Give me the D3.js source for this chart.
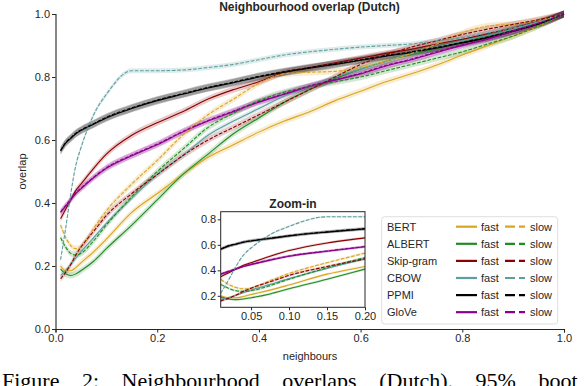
<!DOCTYPE html>
<html><head><meta charset="utf-8">
<script src="https://cdn.jsdelivr.net/npm/d3@7"></script>
<style>body{margin:0;background:#fff}svg{display:block}</style>
</head><body><svg id="c" width="584" height="386"></svg>
<script>
const xs = [0.01,0.02,0.03,0.04,0.05,0.075,0.1,0.15,0.2,0.25,0.3,0.35,0.4,0.45,0.5,0.55,0.6,0.65,0.7,0.75,0.8,0.85,0.9,0.95,1.0];
const models = ["BERT","ALBERT","Skip-gram","CBOW","PPMI","GloVe"];
const colors = ["#daa520","#228b22","#8b0000","#5f9ea0","#000000","#8b008b"];
const xTicks = [0,0.2,0.4,0.6,0.8,1.0];
const yTicks = [0,0.2,0.4,0.6,0.8,1.0];
const insetXTicks = [0.05,0.10,0.15,0.20];
const insetYTicks = [0.2,0.4,0.6,0.8];

const bertFast   = [0.20,0.185,0.185,0.195,0.21,0.245,0.285,0.37,0.43,0.49,0.545,0.585,0.625,0.66,0.69,0.725,0.755,0.785,0.81,0.838,0.87,0.90,0.93,0.962,1.0];
const bertSlow   = [0.33,0.29,0.265,0.255,0.26,0.32,0.375,0.46,0.535,0.615,0.68,0.73,0.78,0.81,0.815,0.818,0.83,0.85,0.875,0.905,0.94,0.962,0.968,0.98,1.0];
const albertFast = [0.19,0.175,0.17,0.175,0.185,0.215,0.255,0.33,0.41,0.49,0.555,0.62,0.67,0.72,0.76,0.795,0.825,0.85,0.872,0.89,0.91,0.93,0.952,0.975,1.0];
const albertSlow = [0.29,0.26,0.24,0.235,0.24,0.28,0.33,0.42,0.50,0.57,0.64,0.685,0.725,0.752,0.77,0.785,0.80,0.82,0.84,0.86,0.88,0.905,0.93,0.962,1.0];
const skipFast   = [0.35,0.38,0.41,0.44,0.46,0.51,0.555,0.615,0.655,0.69,0.73,0.76,0.785,0.815,0.83,0.845,0.86,0.875,0.888,0.905,0.92,0.938,0.955,0.975,1.0];
const skipSlow   = [0.16,0.18,0.205,0.235,0.26,0.31,0.36,0.43,0.49,0.55,0.60,0.64,0.68,0.72,0.76,0.80,0.84,0.87,0.895,0.915,0.935,0.952,0.967,0.982,1.0];
const cbowFast   = [0.17,0.185,0.205,0.225,0.245,0.29,0.335,0.415,0.49,0.55,0.615,0.66,0.70,0.74,0.77,0.80,0.825,0.85,0.875,0.895,0.915,0.932,0.952,0.975,1.0];
const cbowSlow   = [0.22,0.32,0.43,0.52,0.575,0.68,0.745,0.82,0.82,0.822,0.83,0.84,0.855,0.87,0.88,0.888,0.895,0.90,0.905,0.915,0.925,0.94,0.955,0.975,1.0];
const ppmiFast   = [0.565,0.59,0.605,0.62,0.63,0.65,0.67,0.70,0.725,0.745,0.765,0.782,0.80,0.815,0.828,0.84,0.853,0.866,0.878,0.892,0.908,0.925,0.945,0.968,1.0];
const ppmiSlow   = [0.567,0.592,0.607,0.622,0.632,0.652,0.672,0.702,0.727,0.747,0.767,0.784,0.802,0.817,0.83,0.842,0.855,0.868,0.88,0.894,0.91,0.927,0.947,0.969,1.0];
const gloveFast  = [0.37,0.39,0.41,0.43,0.445,0.48,0.51,0.55,0.585,0.625,0.66,0.69,0.72,0.745,0.77,0.79,0.81,0.835,0.855,0.878,0.90,0.92,0.945,0.97,1.0];
const gloveSlow  = [0.372,0.392,0.412,0.432,0.447,0.482,0.512,0.552,0.587,0.627,0.662,0.692,0.722,0.747,0.772,0.792,0.812,0.837,0.857,0.88,0.902,0.922,0.947,0.971,1.0];

const fastSeries = [bertFast, albertFast, skipFast, cbowFast, ppmiFast, gloveFast];
const slowSeries = [bertSlow, albertSlow, skipSlow, cbowSlow, ppmiSlow, gloveSlow];
const ciWidth = [0.010,0.010,0.010,0.008,0.012,0.010];
const captionWords = ["Figure","2:","Neighbourhood","overlaps","(Dutch).","95%","boot"];

const svg = d3.select("#c");
const FONT = "'Liberation Sans', Arial, sans-serif";
const TXT = "#262626";

const x = d3.scaleLinear().domain([0,1]).range([55.5,564]);
const y = d3.scaleLinear().domain([0,1]).range([329,14]);

const series = [];
models.forEach((m,i)=>{
  series.push({model:m, color:colors[i], dash:false, vals:fastSeries[i], ci:ciWidth[i]});
  series.push({model:m, color:colors[i], dash:true, vals:slowSeries[i], ci:ciWidth[i]});
});

function drawSeries(g, xs_, ys_, clipId){
  const pts = s => xs.map((v,j)=>[v, s.vals[j]]);
  const area = d3.area().x(d=>xs_(d[0])).y0((d)=>ys_(d[1]-d[2])).y1(d=>ys_(d[1]+d[2])).curve(d3.curveMonotoneX);
  const line = d3.line().x(d=>xs_(d[0])).y(d=>ys_(d[1])).curve(d3.curveMonotoneX);
  const gg = g.append("g");
  if (clipId) gg.attr("clip-path", `url(#${clipId})`);
  series.forEach(s=>{
    gg.append("path").attr("d", area(xs.map((v,j)=>[v,s.vals[j],s.ci])))
      .attr("fill", s.color).attr("fill-opacity", s.color==="#000000"?0.22:0.2).attr("stroke","none");
  });
  series.filter(s=>!s.dash).forEach(s=>{
    gg.append("path").attr("d", line(pts(s))).attr("fill","none").attr("stroke",s.color).attr("stroke-width",1.1);
  });
  series.filter(s=>s.dash).forEach(s=>{
    gg.append("path").attr("d", line(pts(s))).attr("fill","none").attr("stroke",s.color).attr("stroke-width",1.1).attr("stroke-dasharray","3.7,1.6");
  });
}

// main plot
drawSeries(svg, x, y, null);

// main axes
const ax = svg.append("g").attr("transform","translate(0,329)").call(d3.axisBottom(x).tickValues(xTicks).tickFormat(d3.format(".1f")).tickSize(3.5).tickPadding(1.5));
const ay = svg.append("g").attr("transform","translate(55.5,0)").call(d3.axisLeft(y).tickValues(yTicks).tickFormat(d3.format(".1f")).tickSize(3.5).tickPadding(2));
[ax,ay].forEach(a=>{
  a.select(".domain").attr("stroke",TXT).attr("stroke-width",1.1);
  a.selectAll(".tick line").attr("stroke",TXT).attr("stroke-width",1);
  a.selectAll("text").attr("fill",TXT).style("font-family",FONT).style("font-size","11px");
});

svg.append("text").attr("x",309.5).attr("y",11).attr("text-anchor","middle")
  .style("font-family",FONT).style("font-size","12px").style("font-weight","bold").attr("fill",TXT)
  .text("Neighbourhood overlap (Dutch)");
svg.append("text").attr("x",310).attr("y",360).attr("text-anchor","middle")
  .style("font-family",FONT).style("font-size","11px").attr("fill",TXT).text("neighbours");
svg.append("text").attr("transform","translate(26,171.5) rotate(-90)").attr("text-anchor","middle")
  .style("font-family",FONT).style("font-size","11px").attr("fill",TXT).text("overlap");

// inset
const ix = d3.scaleLinear().domain([0.01,0.2]).range([220.7,365]);
const iy = d3.scaleLinear().domain([0.11,0.86]).range([307.3,211.7]);
svg.append("defs").append("clipPath").attr("id","insetClip").append("rect")
  .attr("x",220.7).attr("y",211.7).attr("width",365-220.7).attr("height",307.3-211.7);
svg.append("rect").attr("x",220.7).attr("y",211.7).attr("width",365-220.7).attr("height",307.3-211.7).attr("fill","#fff");
drawSeries(svg, ix, iy, "insetClip");
svg.append("rect").attr("x",220.7).attr("y",211.7).attr("width",365-220.7).attr("height",307.3-211.7)
  .attr("fill","none").attr("stroke",TXT).attr("stroke-width",1);
const iax = svg.append("g").attr("transform","translate(0,307.3)").call(d3.axisBottom(ix).tickValues(insetXTicks).tickFormat(d3.format(".2f")).tickSize(3).tickPadding(1.5));
const iay = svg.append("g").attr("transform","translate(220.7,0)").call(d3.axisLeft(iy).tickValues(insetYTicks).tickFormat(d3.format(".1f")).tickSize(3).tickPadding(1.5));
[iax,iay].forEach(a=>{
  a.select(".domain").remove();
  a.selectAll(".tick line").attr("stroke",TXT);
  a.selectAll("text").attr("fill",TXT).style("font-family",FONT).style("font-size","11px");
});
svg.append("text").attr("x",293).attr("y",208).attr("text-anchor","middle")
  .style("font-family",FONT).style("font-size","12px").style("font-weight","bold").attr("fill",TXT).text("Zoom-in");

// legend
const lg = svg.append("g");
lg.append("rect").attr("x",381.7).attr("y",216.7).attr("width",176).attr("height",107.3).attr("rx",3)
  .attr("fill","#fff").attr("fill-opacity",0.85).attr("stroke","#d5d5d5").attr("stroke-width",0.8);
models.forEach((m,i)=>{
  const cy = 226.7 + i*17.1;
  lg.append("text").attr("x",387).attr("y",cy+4).style("font-family",FONT).style("font-size","11px").attr("fill",TXT).text(m);
  lg.append("line").attr("x1",456).attr("x2",477).attr("y1",cy).attr("y2",cy).attr("stroke",colors[i]).attr("stroke-width",2.2);
  lg.append("text").attr("x",481).attr("y",cy+4).style("font-family",FONT).style("font-size","11px").attr("fill",TXT).text("fast");
  lg.append("line").attr("x1",505).attr("x2",525).attr("y1",cy).attr("y2",cy).attr("stroke",colors[i]).attr("stroke-width",2.2).attr("stroke-dasharray","10,4");
  lg.append("text").attr("x",530).attr("y",cy+4).style("font-family",FONT).style("font-size","11px").attr("fill",TXT).text("slow");
});

// caption (partially below the picture edge, as in the reference)
svg.append("text").attr("x",2).attr("y",388).style("font-family","'Liberation Serif', 'Times New Roman', serif")
  .style("font-size","22px").style("word-spacing","17px").attr("fill","#000")
  .text(captionWords.join(" "));
</script></body></html>
